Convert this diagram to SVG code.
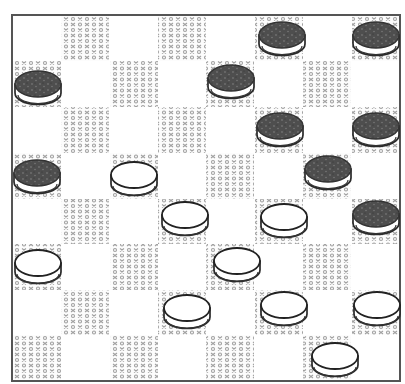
<svg xmlns="http://www.w3.org/2000/svg" width="405" height="384" viewBox="0 0 405 384">
<style>
.bg{fill:#ffffff}
.sq{fill:url(#hatch)}
.border{fill:none;stroke:#555;stroke-width:2}
.body{fill:#fff;stroke:#2a2a2a;stroke-width:1.7}
.rim{fill:none;stroke:#333;stroke-width:1.2}
.btop{fill:url(#speck);stroke:#333;stroke-width:1.4}
.wtop{fill:#fff;stroke:#222;stroke-width:1.8}
</style>
<defs>
<pattern id="hatch" width="14" height="11" patternUnits="userSpaceOnUse">
<rect width="14" height="11" fill="#fcfcfc"/>
<g fill="none" stroke="#a0a0a0" stroke-width="1.1">
<path d="M1,1 L5,4 M5,1 L1,4"/>
<path d="M8,6.5 L12,9.5 M12,6.5 L8,9.5"/>
<circle cx="10" cy="2.5" r="1.5"/>
<circle cx="3" cy="8" r="1.5"/>
</g>
</pattern>
<pattern id="speck" width="8" height="6" patternUnits="userSpaceOnUse">
<rect width="8" height="6" fill="#4e4e4e"/>
<circle cx="2" cy="2" r="0.9" fill="#707070"/>
<circle cx="6" cy="4.5" r="0.8" fill="#777"/>
<circle cx="5" cy="1" r="0.6" fill="#333"/>
</pattern>
<symbol id="black" overflow="visible">
<path class="body" d="M-23,-4 L-23,5 A23,11.5 0 0 0 23,5 L23,-4 Z"/>
<path class="rim" d="M-20,7 A20,8.5 0 0 0 20,7"/>
<ellipse class="btop" cx="0" cy="-4" rx="23" ry="13"/>
</symbol>
<symbol id="white" overflow="visible">
<path class="body" d="M-23,-4 L-23,5 A23,11.5 0 0 0 23,5 L23,-4 Z"/>
<path class="rim" d="M-21,7 A21,9 0 0 0 21,7"/>
<ellipse class="wtop" cx="0" cy="-4" rx="23" ry="13"/>
</symbol>
</defs>
<rect class="bg" x="0" y="0" width="405" height="384"/>
<g id="dark-squares">
<rect class="sq" x="61" y="16" width="48" height="45"/>
<rect class="sq" x="158" y="16" width="48" height="45"/>
<rect class="sq" x="255" y="16" width="48" height="45"/>
<rect class="sq" x="352" y="16" width="48" height="45"/>
<rect class="sq" x="13" y="61" width="48" height="46"/>
<rect class="sq" x="110" y="61" width="48" height="46"/>
<rect class="sq" x="206" y="61" width="48" height="46"/>
<rect class="sq" x="303" y="61" width="48" height="46"/>
<rect class="sq" x="61" y="107" width="48" height="46"/>
<rect class="sq" x="158" y="107" width="48" height="46"/>
<rect class="sq" x="255" y="107" width="48" height="46"/>
<rect class="sq" x="352" y="107" width="48" height="46"/>
<rect class="sq" x="13" y="153" width="48" height="46"/>
<rect class="sq" x="110" y="153" width="48" height="46"/>
<rect class="sq" x="206" y="153" width="48" height="46"/>
<rect class="sq" x="303" y="153" width="48" height="46"/>
<rect class="sq" x="61" y="199" width="48" height="45"/>
<rect class="sq" x="158" y="199" width="48" height="45"/>
<rect class="sq" x="255" y="199" width="48" height="45"/>
<rect class="sq" x="352" y="199" width="48" height="45"/>
<rect class="sq" x="13" y="244" width="48" height="46"/>
<rect class="sq" x="110" y="244" width="48" height="46"/>
<rect class="sq" x="206" y="244" width="48" height="46"/>
<rect class="sq" x="303" y="244" width="48" height="46"/>
<rect class="sq" x="61" y="290" width="48" height="45"/>
<rect class="sq" x="158" y="290" width="48" height="45"/>
<rect class="sq" x="255" y="290" width="48" height="45"/>
<rect class="sq" x="352" y="290" width="48" height="45"/>
<rect class="sq" x="13" y="335" width="48" height="45"/>
<rect class="sq" x="110" y="335" width="48" height="45"/>
<rect class="sq" x="206" y="335" width="48" height="45"/>
<rect class="sq" x="303" y="335" width="48" height="45"/>
</g>
<rect class="border" x="12" y="15" width="388" height="366"/>
<g id="black-pieces">
<use href="#black" x="282" y="39"/>
<use href="#black" x="376" y="39"/>
<use href="#black" x="38" y="88"/>
<use href="#black" x="231" y="82"/>
<use href="#black" x="280" y="130"/>
<use href="#black" x="376" y="130"/>
<use href="#black" x="37" y="177"/>
<use href="#black" x="328" y="173"/>
<use href="#black" x="376" y="218"/>
</g>
<g id="white-pieces">
<use href="#white" x="134" y="179"/>
<use href="#white" x="185" y="219"/>
<use href="#white" x="284" y="221"/>
<use href="#white" x="38" y="267"/>
<use href="#white" x="237" y="265"/>
<use href="#white" x="187" y="312"/>
<use href="#white" x="284" y="309"/>
<use href="#white" x="377" y="309"/>
<use href="#white" x="335" y="360"/>
</g>
</svg>
